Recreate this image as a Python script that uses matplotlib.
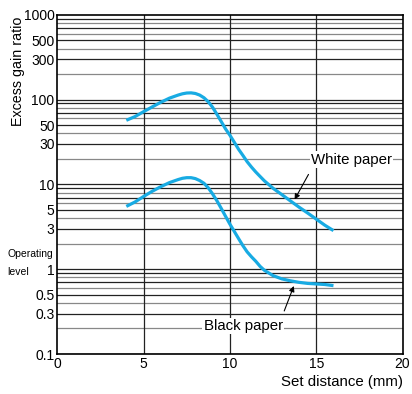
import matplotlib.pyplot as plt
import numpy as np

# values
dist = [4, 4.5, 5, 5.5, 6, 6.5, 7, 7.25, 7.5, 7.75, 8, 8.25, 8.5, 8.75, 9, 9.25, 9.5, 9.75,
        10, 10.25, 10.5, 10.75, 11, 11.25, 11.5, 11.75, 12, 12.5, 13, 13.5, 14, 14.5, 15, 15.5, 16]
white = [57, 63, 72, 82, 93, 104, 113, 117, 119.5, 120, 118, 113, 105, 94, 81, 67, 55, 45,
         38, 31.5, 26, 22, 18.5, 16, 14, 12.4, 11, 9, 7.6, 6.4, 5.4, 4.6, 3.9, 3.3, 2.85]
black = [5.5, 6.2, 7.2, 8.3, 9.4, 10.5, 11.4, 11.8, 12, 12, 11.7, 11.1, 10.3, 9.1, 7.7, 6.4, 5.2, 4.2,
         3.4, 2.8, 2.3, 1.9, 1.6, 1.4, 1.24, 1.08, 0.97, 0.84, 0.77, 0.73, 0.70, 0.68, 0.67, 0.66, 0.64]

yticks = [1000, 500, 300, 100, 50, 30, 10, 5, 3, 1, 0.5, 0.3, 0.1]
ylabels = ['1000', '500', '300', '100', '50', '30', '10', '5', '3', '1', '0.5', '0.3', '0.1']
xticks = [0, 5, 10, 15, 20]

plt.rcParams['font.family'] = ['Liberation Sans', 'DejaVu Sans']

fig = plt.figure(figsize=(4.12, 3.94), dpi=100)
ax = fig.add_axes([0.139, 0.1015, 0.838, 0.861])
ax.set_yscale('log')
ax.set_xlim(0, 20)
ax.set_ylim(0.1, 1000)

# horizontal grid: decades dark, in-between lines alternate dark / gray
for dec in [0.1, 1, 10, 100]:
    for m in range(1, 10):
        c = '#222222' if m % 2 == 1 else '#888888'
        ax.axhline(dec * m, color=c, lw=0.9, zorder=1)
for xv in [5, 10, 15]:
    ax.axvline(xv, color='#222222', lw=0.9, zorder=1)

ax.plot(dist, white, color='#18ABE3', lw=2.3, solid_joinstyle='round', solid_capstyle='butt', zorder=3)
ax.plot(dist, black, color='#18ABE3', lw=2.3, solid_joinstyle='round', solid_capstyle='butt', zorder=3)

ax.set_yticks(yticks)
ax.set_yticklabels(ylabels)
ax.yaxis.set_minor_locator(plt.NullLocator())
ax.set_xticks(xticks)
ax.tick_params(length=0, labelsize=10, pad=2)
for s in ax.spines.values():
    s.set_linewidth(1.2)

# labels with arrows
ax.text(17.05, 19.5, 'White paper', ha='center', va='center', fontsize=10.8,
        bbox=dict(fc='white', ec='none', pad=1), zorder=4)
ax.annotate('', xy=(13.67, 6.2), xytext=(14.63, 14),
            arrowprops=dict(arrowstyle='-|>', lw=0.8, color='black', mutation_scale=8), zorder=5)
ax.text(10.77, 0.214, 'Black paper', ha='center', va='center', fontsize=10.8,
        bbox=dict(fc='white', ec='none', pad=1), zorder=4)
ax.annotate('', xy=(13.76, 0.68), xytext=(13.09, 0.30),
            arrowprops=dict(arrowstyle='-|>', lw=0.8, color='black', mutation_scale=8), zorder=5)

fig.text(0.044, 0.82, 'Excess gain ratio', rotation=90, ha='center', va='center', fontsize=10.3)
fig.text(0.017, 0.355, 'Operating', ha='left', va='center', fontsize=7.5)
fig.text(0.017, 0.310, 'level', ha='left', va='center', fontsize=7.5)
fig.text(0.977, 0.031, 'Set distance (mm)', ha='right', va='center', fontsize=10.8)

fig.savefig('out.png', dpi=100)
